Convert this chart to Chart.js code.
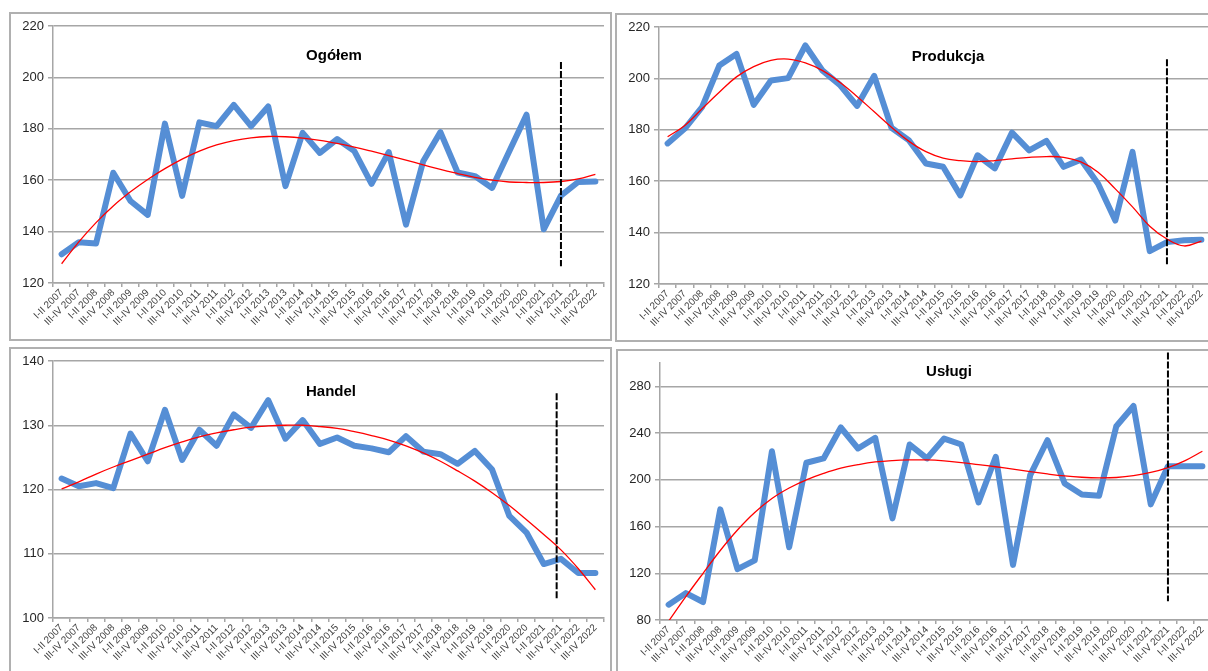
<!DOCTYPE html>
<html>
<head>
<meta charset="utf-8">
<script src="https://cdn.jsdelivr.net/npm/chart.js@4.4.1/dist/chart.umd.min.js"></script>
<style>
  html, body { margin: 0; padding: 0; background: #fff; overflow: hidden; width: 1208px; height: 671px; }
  .panel { position: absolute; box-sizing: border-box; border: 2px solid #b0b0b0; background: #fff; }
  .panel canvas { display: block; }
</style>
</head>
<body>
<div class="panel" id="p1" style="left:9px;top:12px;width:603px;height:329px"><canvas id="c1"></canvas></div>
<div class="panel" id="p2" style="left:615px;top:13px;width:603px;height:329px"><canvas id="c2"></canvas></div>
<div class="panel" id="p3" style="left:9px;top:347px;width:603px;height:340px"><canvas id="c3"></canvas></div>
<div class="panel" id="p4" style="left:616px;top:349px;width:603px;height:340px"><canvas id="c4"></canvas></div>
<script>
  const periods = [];
  for (let y = 2007; y <= 2022; y++) {
    periods.push('I-II ' + y, 'III-IV ' + y);
  }

  // Ogółem
  const ogolem = [131.2, 135.9, 135.4, 162.9, 151.9, 146.5, 182, 153.9, 182.5, 181, 189.3, 181, 188.7, 157.7, 178.4, 170.6,
    176, 171.3, 158.6, 170.9, 142.7, 167.4, 178.7, 163, 161.6, 157, 171.3, 185.5, 140.9, 154, 159.3, 159.5];
  const ogolemTrend = [127.5, 136, 143.5, 150, 155.5, 160.3, 164.5, 168.2, 171.3, 173.7, 175.4, 176.5, 177, 176.9, 176.4, 175.5,
    174.3, 172.9, 171.3, 169.6, 167.8, 166, 164.2, 162.6, 161.1, 160, 159.3, 159.1, 159.1, 159.5, 160.5, 162.3];

  // Produkcja
  const produkcja = [174.7, 180.5, 188.8, 205, 209.5, 189.7, 199.2, 200.1, 212.8, 203, 197.5, 189.3, 201, 180.8, 176, 166.9,
    165.6, 154.5, 170.1, 165, 178.9, 172, 175.7, 165.6, 168.4, 159, 144.7, 171.4, 132.8, 136.3, 137, 137.2];
  const produkcjaTrend = [177.3, 181.7, 188.2, 194.6, 200.6, 204.6, 207, 207.5, 206, 203, 198.5, 193, 187, 181, 175.6, 171.5,
    169, 168, 167.6, 168, 168.7, 169.3, 169.6, 169.3, 167.5, 163.5, 157, 150, 142.5, 137.5, 134.8, 136.7];

  // Handel
  const handel = [121.7, 120.5, 121, 120.2, 128.7, 124.4, 132.4, 124.6, 129.3, 126.8, 131.7, 129.6, 133.9, 127.9, 130.8, 127.1,
    128.1, 126.8, 126.4, 125.8, 128.3, 125.9, 125.5, 124, 126, 123.1, 115.9, 113.3, 108.4, 109.2, 107, 107];
  const handelTrend = [120.1, 121.2, 122.4, 123.5, 124.5, 125.5, 126.5, 127.4, 128.2, 128.8, 129.3, 129.7, 129.9, 130, 130, 129.8,
    129.5, 129, 128.4, 127.7, 126.8, 125.7, 124.4, 122.9, 121.3, 119.5, 117.5, 115.3, 113, 110.6, 107.7, 104.4];

  // Usługi
  const uslugi = [93.1, 103, 95.4, 174.7, 123.5, 131, 224.5, 142.3, 214.6, 218.3, 244.8, 226.8, 235.9, 167, 230.2, 218.3,
    235.3, 230.2, 180.7, 219.7, 127.2, 204, 233.9, 196.9, 187.5, 186.4, 245.9, 263.2, 179, 211.7, 211.7, 211.7];
  const uslugiTrend = [79, 100, 120, 139.5, 157, 172, 184, 193, 200, 205.5, 210, 213, 215.3, 216.5, 217, 217,
    216.2, 214.8, 213, 211.2, 209.2, 207, 205, 203.3, 202.2, 201.7, 202, 203.5, 206.3, 210.5, 216.5, 224.5];

  const panels = [
    { id: 'c1', title: 'Ogółem', data: ogolem, trend: ogolemTrend, min: 120, max: 220, step: 20, tickMax: 220,
      dash: [29, 206, 126.5], titleX: 323, titleY: 42 },
    { id: 'c2', title: 'Produkcja', data: produkcja, trend: produkcjaTrend, min: 120, max: 220, step: 20, tickMax: 220,
      dash: [29, 207.5, 127], titleX: 331, titleY: 42 },
    { id: 'c3', title: 'Handel', data: handel, trend: handelTrend, min: 100, max: 140, step: 10, tickMax: 140,
      dash: [28.75, 135, 103], titleX: 320, titleY: 43 },
    { id: 'c4', title: 'Usługi', data: uslugi, trend: uslugiTrend, min: 80, max: 300, step: 40, tickMax: 280,
      dash: [29, 309, 96], titleX: 331, titleY: 21 }
  ];

  const W = 599, H = 325;

  const overlay = {
    id: 'overlay',
    afterDatasetsDraw(chart, args, opts) {
      const ctx = chart.ctx;
      const xs = chart.scales.x, ys = chart.scales.y;
      const x = xs.getPixelForValue(opts.dash[0]);
      ctx.save();
      ctx.strokeStyle = '#000';
      ctx.lineWidth = 2;
      ctx.setLineDash([7, 2]);
      ctx.beginPath();
      ctx.moveTo(x, ys.getPixelForValue(opts.dash[1]));
      ctx.lineTo(x, ys.getPixelForValue(opts.dash[2]));
      ctx.stroke();
      ctx.setLineDash([]);
      ctx.fillStyle = '#000';
      ctx.font = 'bold 15px "Liberation Sans", Arial, sans-serif';
      ctx.textAlign = 'center';
      ctx.textBaseline = 'middle';
      ctx.fillText(opts.title, opts.titleX, opts.titleY);
      ctx.restore();
    }
  };

  for (const p of panels) {
    const canvas = document.getElementById(p.id);
    canvas.width = W;
    canvas.height = H;
    canvas.style.width = W + 'px';
    canvas.style.height = H + 'px';

    new Chart(canvas.getContext('2d'), {
      type: 'line',
      data: {
        labels: periods,
        datasets: [
          {
            label: 'trend',
            data: p.trend,
            borderColor: '#ff0000',
            borderWidth: 1.3,
            pointRadius: 0,
            tension: 0.4,
            fill: false
          },
          {
            label: p.title,
            data: p.data,
            borderColor: '#558ed5',
            borderWidth: 6,
            borderJoinStyle: 'round',
            borderCapStyle: 'round',
            pointRadius: 0,
            tension: 0,
            fill: false
          }
        ]
      },
      options: {
        responsive: false,
        animation: false,
        devicePixelRatio: 1,
        layout: { padding: { left: 0, right: 6, top: 12, bottom: 0 } },
        plugins: {
          legend: { display: false },
          tooltip: { enabled: false },
          overlay: { dash: p.dash, title: p.title, titleX: p.titleX, titleY: p.titleY }
        },
        scales: {
          x: {
            offset: true,
            grid: { offset: true, drawOnChartArea: false, drawTicks: true, tickLength: 4, color: '#a6a6a6', lineWidth: 1.5 },
            border: { color: '#a6a6a6', width: 1.5 },
            ticks: {
              autoSkip: false,
              maxRotation: 45,
              minRotation: 45,
              padding: 0,
              color: '#404040',
              font: { family: '"Liberation Sans", Arial, sans-serif', size: 10 }
            },
            afterFit: (s) => { s.height = 56; }
          },
          y: {
            min: p.min,
            max: p.max,
            afterBuildTicks: (s) => { s.ticks = s.ticks.filter((t) => t.value <= p.tickMax); },
            grid: { color: '#a6a6a6', lineWidth: 1.5, drawTicks: true, tickLength: 5 },
            border: { color: '#a6a6a6', width: 1.5 },
            ticks: {
              stepSize: p.step,
              padding: 4,
              color: '#262626',
              font: { family: '"Liberation Sans", Arial, sans-serif', size: 13 }
            },
            afterFit: (s) => { s.width = 42; }
          }
        }
      },
      plugins: [overlay]
    });
  }
</script>
</body>
</html>
